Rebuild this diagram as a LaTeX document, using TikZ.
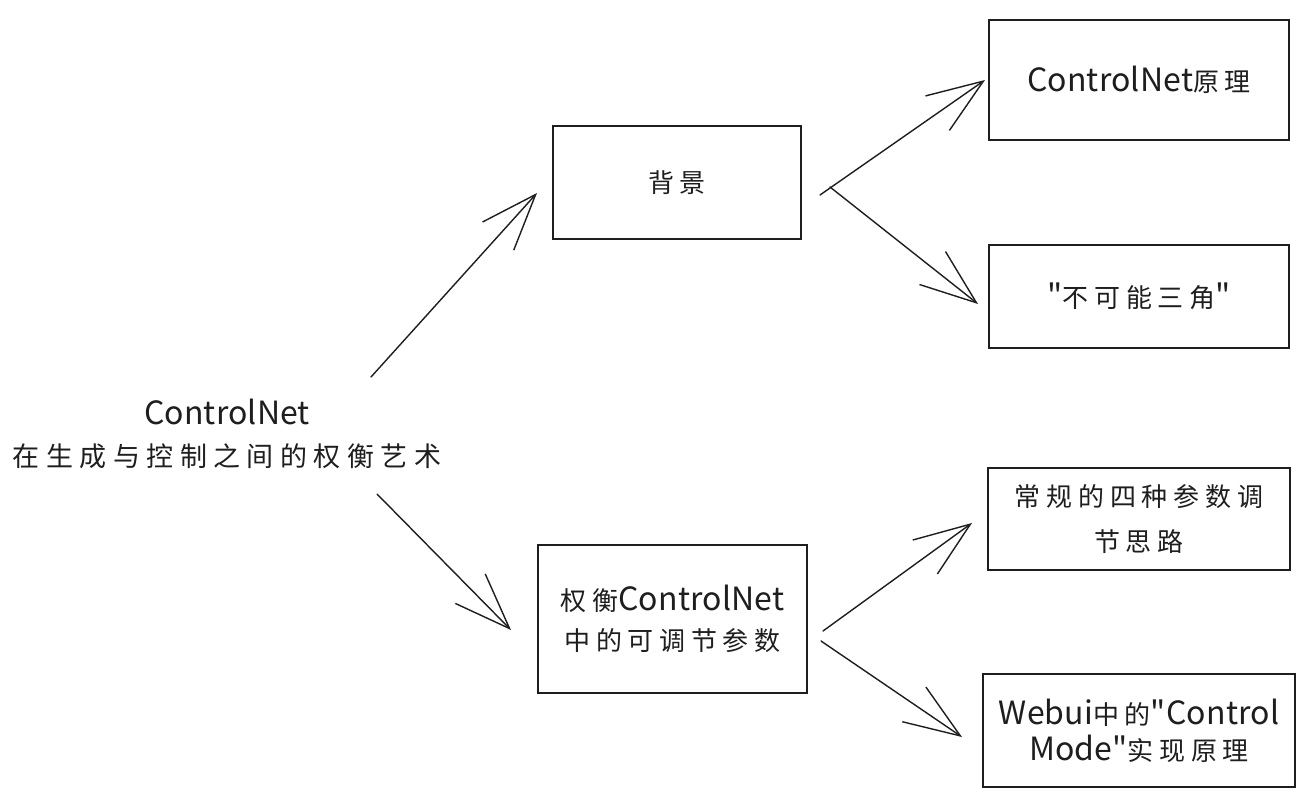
\documentclass[tikz,border=0pt]{standalone}
\usepackage{fontspec}
\setmainfont{Noto Sans CJK SC}
\newfontfamily\cjkf{Noto Sans CJK SC}[LetterSpace=22]
\newfontfamily\cjkt{Noto Sans CJK SC}[LetterSpace=24]
\newfontfamily\latf{Noto Sans CJK SC}[LetterSpace=0.5]
\newcommand\La[1]{{\latf\fontsize{32}{40}\selectfont #1}}
\usetikzlibrary{arrows.meta}
\definecolor{ink}{HTML}{1E1E1E}
\begin{document}
\begin{tikzpicture}[x=1pt,y=-1pt,
  box/.style={draw=ink, line width=1.6pt, inner sep=0pt, text=ink, align=center,
    font=\cjkf\fontsize{26}{40}\selectfont},
  titletext/.style={inner sep=0pt, text=ink, align=center,
    font=\cjkt\fontsize{27}{42}\selectfont},
  conn/.style={draw=ink, line width=1.4pt, line cap=round,
    -{Straight Barb[length=56pt,width=42pt,line width=1.4pt]}}]
\fill[white] (0,0) rectangle (1315,806);
\useasboundingbox (0,0) rectangle (1315,806);

% title
\node[titletext] (title) at (227,434) {\La{ControlNet}\\在生成与控制之间的权衡艺术};

% boxes
\node[box, minimum width=248pt, minimum height=113pt] (bg) at (677,182.5) {背景};
\node[box, minimum width=300pt, minimum height=120pt] (cn) at (1139,80) {\La{ControlNet}原理};
\node[box, minimum width=300pt, minimum height=103pt] (tri) at (1139,296.5) {\La{"}不可能三角\La{"}};
\node[box, minimum width=269pt, minimum height=148pt] (bal) at (672.5,619) {权衡\La{ControlNet}\\中的可调节参数};
\node[box, minimum width=302pt, minimum height=102pt, font=\cjkf\fontsize{26}{45}\selectfont] (reg) at (1139,519) {常规的四种参数调\\节思路};
\node[box, minimum width=312pt, minimum height=113pt, font=\cjkf\fontsize{26}{36}\selectfont] (web) at (1139,730.5) {\La{Webui}中的\La{"Control}\\\La{Mode"}实现原理};

% connector end points
\coordinate (s1) at (371,377);  \coordinate (e1) at (537,193);
\coordinate (s2) at (377,494);  \coordinate (e2) at (511,630);
\coordinate (s3) at (820,195);  \coordinate (e3) at (985,80);
\coordinate (s4) at (830,187);  \coordinate (e4) at (978,304);
\coordinate (s5) at (823,631);  \coordinate (e5) at (972,523);
\coordinate (s6) at (821,641);  \coordinate (e6) at (962,737);

\draw[conn] (s1) -- (e1);
\draw[conn] (s2) -- (e2);
\draw[conn] (s3) -- (e3);
\draw[conn] (s4) -- (e4);
\draw[conn] (s5) -- (e5);
\draw[conn] (s6) -- (e6);
\end{tikzpicture}
\end{document}
